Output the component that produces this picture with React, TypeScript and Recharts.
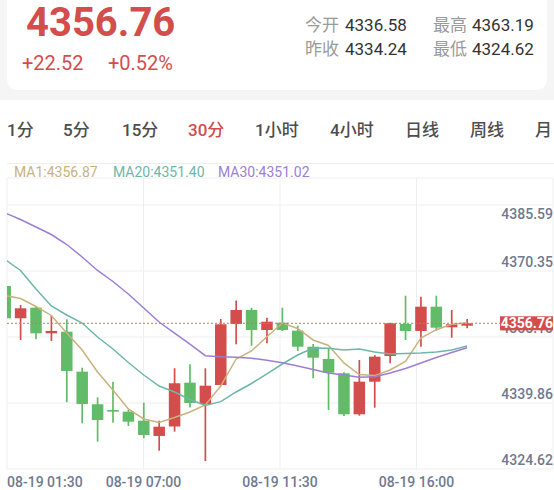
import { ComposedChart, Bar, Line, XAxis, YAxis, CartesianGrid, ReferenceLine } from 'recharts';

const OPEN = [
  4366.89, 4359.43, 4361.88, 4355.96, 4356.33, 4347.1, 4339.57, 4338.25, 4337.86, 4335.78, 4332.25,
  4334.44, 4344.56, 4339.64, 4344.02, 4358.11, 4361.35, 4356.73, 4358.41, 4356.57, 4352.87, 4350.03,
  4346.73, 4337.26, 4344.79, 4350.72, 4358.11, 4356.5, 4362.11, 4357.35, 4357.72
];
const HIGH = [
  4367.12, 4362.5, 4362.04, 4360.03, 4359.2, 4348.02, 4341.18, 4344.79, 4338.25, 4339.94, 4335.78,
  4347.88, 4348.81, 4347.88, 4359.27, 4363.54, 4361.88, 4359.57, 4361.88, 4357.72, 4353.49, 4352.5,
  4346.96, 4349.8, 4350.95, 4358.41, 4364.65, 4364.42, 4364.65, 4361.35, 4359.27
];
const LOW = [
  4359.27, 4354.42, 4354.58, 4354.19, 4340.03, 4335.18, 4330.93, 4335.32, 4334.56, 4331.72, 4328.85,
  4333.24, 4338.83, 4326.48, 4343.95, 4353.42, 4353.1, 4353.66, 4356.5, 4351.88, 4345.57, 4338.25,
  4336.87, 4336.93, 4338.78, 4349.04, 4354.42, 4352.87, 4356.5, 4354.95, 4357.12
];
const CLOSE = [
  4359.43, 4361.74, 4355.96, 4356.5, 4347.26, 4339.64, 4335.94, 4337.86, 4335.55, 4332.48, 4334.39,
  4344.42, 4339.87, 4343.86, 4358.04, 4361.35, 4356.73, 4358.64, 4356.73, 4352.87, 4350.33, 4346.87,
  4337.26, 4344.79, 4350.56, 4358.27, 4356.5, 4362.11, 4357.26, 4358.04, 4358.27
];
const MA1 = [
  4364.69, 4364.0, 4362.15, 4360.08, 4356.03, 4352.11, 4347.03, 4342.87, 4338.48, 4336.17, 4335.36,
  4336.52, 4337.79, 4339.41, 4343.79, 4350.03, 4351.88, 4355.18, 4358.34, 4357.07, 4354.42, 4353.15,
  4349.11, 4346.45, 4346.19, 4347.49, 4349.45, 4354.88, 4356.8, 4358.04, 4358.41
];
const MA20 = [
  4373.01, 4370.47, 4366.2, 4362.27, 4360.19, 4358.34, 4355.11, 4352.34, 4349.22, 4346.33, 4343.79,
  4342.41, 4340.68, 4339.29, 4340.17, 4342.41, 4344.37, 4346.57, 4348.87, 4350.95, 4352.57, 4352.5,
  4352.11, 4352.34, 4351.65, 4351.18, 4351.3, 4351.42, 4351.65, 4352.11, 4353.03
];
const MA30 = [
  4383.75, 4382.25, 4380.51, 4378.78, 4376.47, 4373.59, 4370.47, 4367.93, 4365.04, 4361.81, 4358.57,
  4355.99, 4353.44, 4350.79, 4350.56, 4350.42, 4350.19, 4349.73, 4349.17, 4348.41, 4347.6, 4346.8,
  4346.33, 4345.8, 4345.94, 4346.8, 4347.84, 4349.11, 4350.38, 4351.53, 4352.64
];

const X_LABELS = ['08-19 01:30', '08-19 07:00', '08-19 11:30', '08-19 16:00', ''];
const Y_TICKS = [4324.62, 4339.86, 4355.1, 4370.35, 4385.59];
const Y_DOMAIN = [4324.62, 4391.83];
const X_DOMAIN = [0.12, 35.58];
const LAST_PRICE = '4356.76';

const TABS = ['1分', '5分', '15分', '30分', '1小时', '4小时', '日线', '周线', '月'];
const TAB_X = [7, 63, 122, 188, 255, 330, 405, 470, 535];

const RED = '#d44d4d';
const GREEN = '#62bb68';
const AXIS = '#6f7a8f';
const C_MA1 = '#c9b27d';
const C_MA20 = '#6db7a6';
const C_MA30 = '#9d7ed5';
const FONT = 'Roboto, "Noto Sans CJK SC", sans-serif';
const PLOT_RIGHT = 553;

const data = OPEN.map((o, i) => ({
  i,
  open: o,
  high: HIGH[i],
  low: LOW[i],
  close: CLOSE[i],
  ma1: MA1[i],
  ma20: MA20[i],
  ma30: MA30[i]
}));

const xTicks = X_LABELS.map((_, k) => X_DOMAIN[0] + (k * (X_DOMAIN[1] - X_DOMAIN[0])) / 4);

function Candle(props: any) {
  const { x, y, width, height, payload } = props;
  if (x == null || y == null || !payload) return null;
  const { open, close, high, low } = payload;
  const color = close >= open ? RED : GREEN;
  const h = Math.abs(height);
  const top = Math.min(y, y + height);
  const ratio = high > low ? h / (high - low) : 0;
  const bodyTop = top + (high - Math.max(open, close)) * ratio;
  const bodyH = Math.max(Math.abs(open - close) * ratio, 1.6);
  const cx = x + width / 2;
  return (
    <g>
      <line x1={cx} x2={cx} y1={top} y2={top + h} stroke={color} strokeWidth={1.7} />
      <rect x={x} y={bodyTop} width={width} height={bodyH} fill={color} />
    </g>
  );
}

function YTick({ y, payload }: any) {
  const isTop = payload.value === Y_TICKS[Y_TICKS.length - 1];
  return (
    <text
      x={PLOT_RIGHT}
      y={isTop ? y + 13.5 : y - 4}
      textAnchor="end"
      fill={AXIS}
      fontSize={14}
      fontWeight={500}
      fontFamily={FONT}
    >
      {payload.value.toFixed(2)}
    </text>
  );
}

function XTick({ x, y, index }: any) {
  return (
    <text
      x={x}
      y={y + 18}
      textAnchor={index === 0 ? 'start' : 'middle'}
      fill={AXIS}
      fontSize={14}
      fontWeight={500}
      fontFamily={FONT}
    >
      {X_LABELS[index]}
    </text>
  );
}

function PriceTag({ viewBox }: any) {
  if (!viewBox) return null;
  const right = viewBox.x + viewBox.width;
  return (
    <g>
      <rect x={right - 53} y={viewBox.y - 7} width={53} height={14} fill={RED} />
      <text x={right} y={viewBox.y + 5} textAnchor="end" fill="#fff" fontSize={14} fontWeight={700} fontFamily={FONT}>
        {LAST_PRICE}
      </text>
    </g>
  );
}

const chartMargin = { top: 178, right: 0, bottom: 0, left: 7 };

export default function App() {
  return (
    <div
      style={{
        position: 'absolute',
        left: 0,
        top: 0,
        width: 554,
        height: 490,
        background: '#fff',
        overflow: 'hidden',
        fontFamily: FONT
      }}
    >
      <div style={{ position: 'absolute', left: 0, top: 0, width: 554, height: 100, background: '#f5f5f5' }} />
      <div
        style={{
          position: 'absolute',
          left: 7,
          top: -12,
          width: 540,
          height: 102,
          background: '#fff',
          borderRadius: 10
        }}
      />
      <div style={{ position: 'absolute', left: 7, top: 163, width: 547, height: 1, background: '#eeeeee' }} />

      <svg width={554} height={190} style={{ position: 'absolute', left: 0, top: 0 }} fontFamily={FONT}>
        <text x={26} y={36} fill={RED} fontSize={40} fontWeight={700}>4356.76</text>
        <text x={22} y={69.5} fill={RED} fontSize={20}>+22.52</text>
        <text x={108} y={69.5} fill={RED} fontSize={20}>+0.52%</text>

        <text x={305} y={30.5} fill="#9a9a9a" fontSize={17}>今开</text>
        <text x={345} y={30.5} fill="#333" fontSize={17}>4336.58</text>
        <text x={433} y={30.5} fill="#9a9a9a" fontSize={17}>最高</text>
        <text x={472} y={30.5} fill="#333" fontSize={17}>4363.19</text>
        <text x={305} y={55} fill="#9a9a9a" fontSize={17}>昨收</text>
        <text x={345} y={55} fill="#333" fontSize={17}>4334.24</text>
        <text x={433} y={55} fill="#9a9a9a" fontSize={17}>最低</text>
        <text x={472} y={55} fill="#333" fontSize={17}>4324.62</text>

        {TABS.map((t, k) => (
          <text key={t} x={TAB_X[k]} y={136} fill={t === '30分' ? RED : '#4d4d4d'} fontSize={17} fontWeight={500}>
            {t}
          </text>
        ))}

        <text x={14} y={176.5} fontSize={14} fill={C_MA1}>MA1:4356.87</text>
        <text x={113} y={176.5} fontSize={14} fill={C_MA20}>MA20:4351.40</text>
        <text x={218} y={176.5} fontSize={14} fill={C_MA30}>MA30:4351.02</text>
      </svg>

      <div style={{ position: 'absolute', left: 0, top: 0 }}>
        <ComposedChart width={554} height={490} data={data} margin={chartMargin}>
          <CartesianGrid stroke="#efefef" strokeWidth={1} />
          <XAxis
            dataKey="i"
            type="number"
            domain={X_DOMAIN}
            allowDataOverflow
            ticks={xTicks}
            interval={0}
            axisLine={false}
            tickLine={false}
            tickSize={0}
            tickMargin={0}
            height={21}
            tick={<XTick />}
          />
          <YAxis
            orientation="right"
            domain={Y_DOMAIN}
            allowDataOverflow
            ticks={Y_TICKS}
            interval={0}
            axisLine={false}
            tickLine={false}
            tickSize={0}
            tickMargin={0}
            width={1}
            tick={<YTick />}
          />
          <Bar
            dataKey={(d: any) => [d.low, d.high]}
            barSize={11.5}
            shape={<Candle />}
            isAnimationActive={false}
          />
          <Line dataKey="ma1" stroke={C_MA1} strokeWidth={1.5} dot={false} type="linear" isAnimationActive={false} />
          <Line dataKey="ma20" stroke={C_MA20} strokeWidth={1.5} dot={false} type="linear" isAnimationActive={false} />
          <Line dataKey="ma30" stroke={C_MA30} strokeWidth={1.5} dot={false} type="linear" isAnimationActive={false} />
        </ComposedChart>
      </div>

      {/* overlay chart so the last-price tag sits above the axis labels */}
      <div style={{ position: 'absolute', left: 0, top: 0 }}>
        <ComposedChart width={554} height={490} data={data} margin={{ ...chartMargin, right: 1, bottom: 21 }}>
          <XAxis dataKey="i" type="number" domain={X_DOMAIN} allowDataOverflow hide />
          <YAxis domain={Y_DOMAIN} allowDataOverflow hide />
          <ReferenceLine
            y={CLOSE[CLOSE.length - 1]}
            stroke="#e06a6a"
            strokeDasharray="2 2"
            strokeWidth={1}
            label={<PriceTag />}
          />
        </ComposedChart>
      </div>
    </div>
  );
}
